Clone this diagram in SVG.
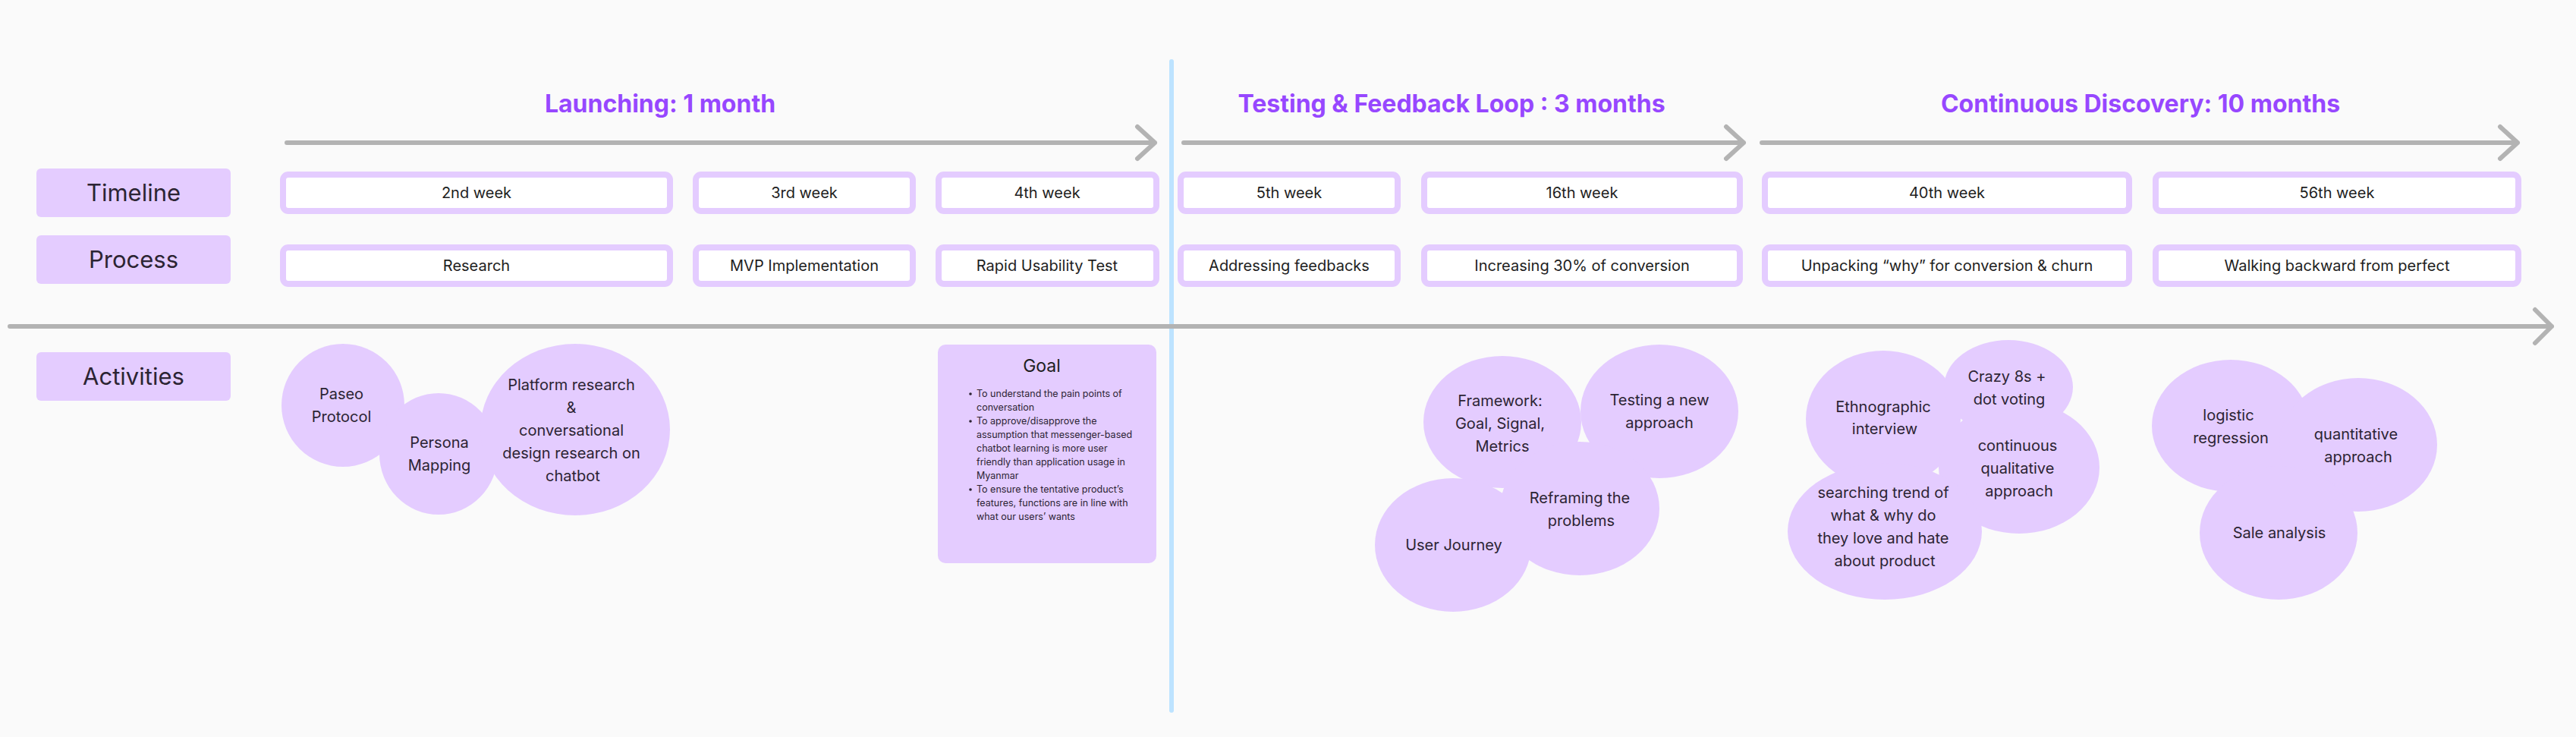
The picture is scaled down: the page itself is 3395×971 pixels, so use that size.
<svg xmlns="http://www.w3.org/2000/svg" width="3395" height="971" viewBox="0 0 3395 971">
<style>
.bg{fill:#FAFAFA}
.title{font-family:Inter,"Liberation Sans",sans-serif;font-weight:700;font-size:32px;fill:#9747FF;text-anchor:middle}
.lab{fill:#E4CCFF}
.labt{font-family:Inter,"Liberation Sans",sans-serif;font-size:31px;fill:#2C2433;text-anchor:middle}
.cell{fill:#FFFFFF;stroke:#E4CCFF;stroke-width:8}
.cellt{font-family:Inter,"Liberation Sans",sans-serif;font-size:20px;fill:#1E1E1E;text-anchor:middle}
.bub{fill:#E4CCFF}
.bt{font-family:Inter,"Liberation Sans",sans-serif;font-size:20px;fill:#2C2433;text-anchor:middle}
.arr{fill:none;stroke:#B3B3B3;stroke-width:6;stroke-linecap:round;stroke-linejoin:round}
.gt{font-family:Inter,"Liberation Sans",sans-serif;font-size:12.5px;fill:#2C2433}
</style>
<rect class="bg" x="0" y="0" width="3395" height="971"/>

<g id="connectors">
  <line x1="1544" y1="81" x2="1544" y2="936" stroke="#BDE3FF" stroke-width="6" stroke-linecap="round"/>
  <path class="arr" d="M378 188 H1522 M1499 167 L1522 188 L1499 209"/>
  <path class="arr" d="M1560 188 H2298 M2275 167 L2298 188 L2275 209"/>
  <path class="arr" d="M2322 188 H3318 M3295 167 L3318 188 L3295 209"/>
  <path class="arr" d="M13 430 H3363 M3341 408 L3363 430 L3341 452"/>
</g>

<g id="titles">
  <text class="title" x="870" y="148">Launching: 1 month</text>
  <text class="title" x="1913" y="148">Testing &amp; Feedback Loop : 3 months</text>
  <text class="title" x="2821" y="148">Continuous Discovery: 10 months</text>
</g>

<g id="label-timeline"><rect class="lab" x="48" y="222" width="256" height="64" rx="6"/><text class="labt" x="176" y="265">Timeline</text></g>
<g id="label-process"><rect class="lab" x="48" y="310" width="256" height="64" rx="6"/><text class="labt" x="176" y="353">Process</text></g>
<g id="label-activities"><rect class="lab" x="48" y="464" width="256" height="64" rx="6"/><text class="labt" x="176" y="507">Activities</text></g>

<g id="timeline-1"><rect class="cell" x="373" y="230" width="510" height="48" rx="7"/><text class="cellt" x="628" y="261">2nd week</text></g>
<g id="timeline-2"><rect class="cell" x="917" y="230" width="286" height="48" rx="7"/><text class="cellt" x="1060" y="261">3rd week</text></g>
<g id="timeline-3"><rect class="cell" x="1237" y="230" width="287" height="48" rx="7"/><text class="cellt" x="1380" y="261">4th week</text></g>
<g id="timeline-4"><rect class="cell" x="1556" y="230" width="286" height="48" rx="7"/><text class="cellt" x="1699" y="261">5th week</text></g>
<g id="timeline-5"><rect class="cell" x="1877" y="230" width="416" height="48" rx="7"/><text class="cellt" x="2085" y="261">16th week</text></g>
<g id="timeline-6"><rect class="cell" x="2326" y="230" width="480" height="48" rx="7"/><text class="cellt" x="2566" y="261">40th week</text></g>
<g id="timeline-7"><rect class="cell" x="2841" y="230" width="478" height="48" rx="7"/><text class="cellt" x="3080" y="261">56th week</text></g>

<g id="process-1"><rect class="cell" x="373" y="326" width="510" height="48" rx="7"/><text class="cellt" x="628" y="357">Research</text></g>
<g id="process-2"><rect class="cell" x="917" y="326" width="286" height="48" rx="7"/><text class="cellt" x="1060" y="357">MVP Implementation</text></g>
<g id="process-3"><rect class="cell" x="1237" y="326" width="287" height="48" rx="7"/><text class="cellt" x="1380" y="357">Rapid Usability Test</text></g>
<g id="process-4"><rect class="cell" x="1556" y="326" width="286" height="48" rx="7"/><text class="cellt" x="1699" y="357">Addressing feedbacks</text></g>
<g id="process-5"><rect class="cell" x="1877" y="326" width="416" height="48" rx="7"/><text class="cellt" x="2085" y="357">Increasing 30% of conversion</text></g>
<g id="process-6"><rect class="cell" x="2326" y="326" width="480" height="48" rx="7"/><text class="cellt" x="2566" y="357">Unpacking “why” for conversion &amp; churn</text></g>
<g id="process-7"><rect class="cell" x="2841" y="326" width="478" height="48" rx="7"/><text class="cellt" x="3080" y="357">Walking backward from perfect</text></g>

<g id="bubble-paseo"><ellipse class="bub" cx="452" cy="534" rx="81" ry="81"/><text class="bt" x="450"><tspan x="450" y="526">Paseo</tspan><tspan x="450" y="556">Protocol</tspan></text></g>
<g id="bubble-persona"><ellipse class="bub" cx="578" cy="598" rx="78" ry="80"/><text class="bt"><tspan x="579" y="590">Persona</tspan><tspan x="579" y="620">Mapping</tspan></text></g>
<g id="bubble-platform"><ellipse class="bub" cx="758" cy="566" rx="125" ry="113"/><text class="bt"><tspan x="753" y="514">Platform research</tspan><tspan x="753" y="544">&amp;</tspan><tspan x="753" y="574">conversational</tspan><tspan x="753" y="604">design research on</tspan><tspan x="755" y="634">chatbot</tspan></text></g>

<g id="goal-card">
  <rect class="bub" x="1236" y="454" width="288" height="288" rx="10"/>
  <text x="1373" y="490" font-family="Inter,'Liberation Sans',sans-serif" font-size="23" fill="#1E1E1E" text-anchor="middle">Goal</text>
  <g class="gt">
    <circle cx="1279" cy="519" r="1.8" fill="#2C2433"/>
    <circle cx="1279" cy="555" r="1.8" fill="#2C2433"/>
    <circle cx="1279" cy="645" r="1.8" fill="#2C2433"/>
    <text class="gt"><tspan x="1287" y="523">To understand the pain points of</tspan><tspan x="1287" y="541">conversation</tspan><tspan x="1287" y="559">To approve/disapprove the</tspan><tspan x="1287" y="577">assumption that messenger-based</tspan><tspan x="1287" y="595">chatbot learning is more user</tspan><tspan x="1287" y="613">friendly than application usage in</tspan><tspan x="1287" y="631">Myanmar</tspan><tspan x="1287" y="649">To ensure the tentative product’s</tspan><tspan x="1287" y="667">features, functions are in line with</tspan><tspan x="1287" y="685">what our users’ wants</tspan></text>
  </g>
</g>

<g id="bubble-framework"><ellipse class="bub" cx="1980" cy="556" rx="104" ry="87"/><text class="bt"><tspan x="1977" y="535">Framework:</tspan><tspan x="1977" y="565">Goal, Signal,</tspan><tspan x="1980" y="595">Metrics</tspan></text></g>
<g id="bubble-testing"><ellipse class="bub" cx="2187" cy="542" rx="104" ry="88"/><text class="bt"><tspan x="2187" y="534">Testing a new</tspan><tspan x="2187" y="564">approach</tspan></text></g>
<g id="bubble-reframing"><ellipse class="bub" cx="2082" cy="670" rx="105" ry="88"/><text class="bt"><tspan x="2082" y="663">Reframing the</tspan><tspan x="2084" y="693">problems</tspan></text></g>
<g id="bubble-journey"><ellipse class="bub" cx="1915" cy="718" rx="103" ry="88"/><text class="bt" x="1916" y="725">User Journey</text></g>

<g id="bubble-ethno"><ellipse class="bub" cx="2482" cy="552" rx="102" ry="90"/><text class="bt"><tspan x="2482" y="543">Ethnographic</tspan><tspan x="2484" y="572">interview</tspan></text></g>
<g id="bubble-continuous"><ellipse class="bub" cx="2661" cy="616" rx="106" ry="87"/><text class="bt"><tspan x="2659" y="594">continuous</tspan><tspan x="2659" y="624">qualitative</tspan><tspan x="2661" y="654">approach</tspan></text></g>
<g id="bubble-crazy"><ellipse class="bub" cx="2647" cy="510" rx="85" ry="62"/><text class="bt"><tspan x="2645" y="503">Crazy 8s +</tspan><tspan x="2648" y="533">dot voting</tspan></text></g>
<g id="bubble-searching"><ellipse class="bub" cx="2484" cy="700" rx="128" ry="90"/><text class="bt"><tspan x="2482" y="656">searching trend of</tspan><tspan x="2482" y="686">what &amp; why do</tspan><tspan x="2482" y="716">they love and hate</tspan><tspan x="2484" y="746">about product</tspan></text></g>

<g id="bubble-logistic"><ellipse class="bub" cx="2940" cy="561" rx="104" ry="87"/><text class="bt"><tspan x="2937" y="554">logistic</tspan><tspan x="2940" y="584">regression</tspan></text></g>
<g id="bubble-quantitative"><ellipse class="bub" cx="3108" cy="586" rx="104" ry="88"/><text class="bt"><tspan x="3105" y="579">quantitative</tspan><tspan x="3108" y="609">approach</tspan></text></g>
<g id="bubble-sale"><ellipse class="bub" cx="3003" cy="702" rx="104" ry="88"/><text class="bt" x="3004" y="709">Sale analysis</text></g>
</svg>
